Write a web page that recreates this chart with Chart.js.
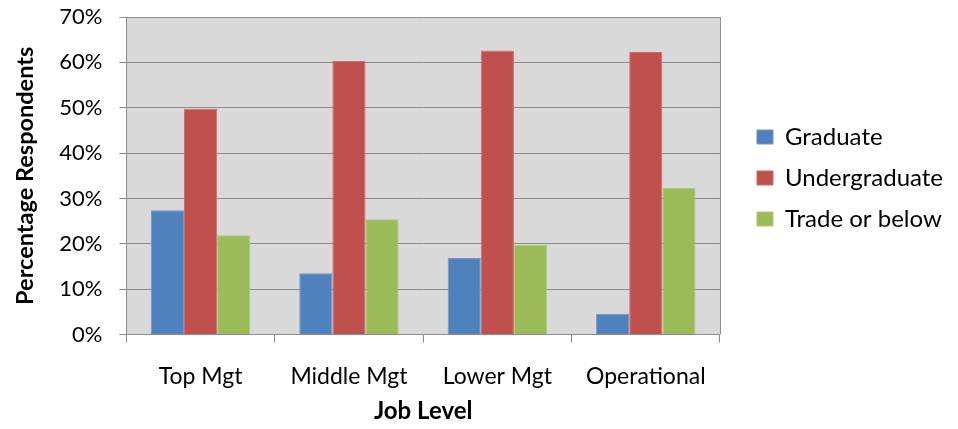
<!DOCTYPE html>
<html>
<head>
<meta charset="utf-8">
<script src="https://cdn.jsdelivr.net/npm/chart.js@4"></script>
<style>
  html, body { margin: 0; padding: 0; background: #fff; }
  #wrap { width: 958px; height: 429px; }
</style>
</head>
<body>
<div id="wrap"><canvas id="chart"></canvas></div>
<script>
// Chart data (percent of respondents)
const jobLevels = ['Top Mgt', 'Middle Mgt', 'Lower Mgt', 'Operational'];
const graduate = [27.4, 13.5, 16.9, 4.6];
const undergraduate = [49.8, 60.3, 62.6, 62.3];
const tradeOrBelow = [21.9, 25.4, 19.8, 32.3];
const yTicks = [0, 10, 20, 30, 40, 50, 60, 70];

const FONT = "Lato, 'Open Sans', sans-serif";

// Grey plot background + right border, like the old Excel look
const plotBackground = {
    id: 'plotBackground',
    beforeDraw(chart) {
        const { ctx, chartArea: a } = chart;
        ctx.save();
        ctx.fillStyle = '#d9d9d9';
        ctx.fillRect(a.left, a.top, a.right - a.left, a.bottom - a.top);
        ctx.restore();
    },
    afterDatasetsDraw(chart) {
        const { ctx, chartArea: a } = chart;
        ctx.save();
        ctx.strokeStyle = '#8c8c8c';
        ctx.lineWidth = 1;
        ctx.beginPath();
        ctx.moveTo(a.right + 0.5, a.top);
        ctx.lineTo(a.right + 0.5, a.bottom);
        ctx.stroke();
        ctx.restore();
    }
};

// Nudge the legend box: Excel puts it a bit further out and level with the plot
const legendNudge = {
    id: 'legendNudge',
    afterLayout(chart) {
        const lg = chart.legend;
        const dx = 20, dy = -37;
        lg.left += dx; lg.right += dx;
        lg.top += dy; lg.bottom += dy;
    }
};

function makeDataset(label, data, color, border) {
    return {
        label: label,
        data: data,
        backgroundColor: color,
        borderColor: border,
        borderWidth: 1,
        categoryPercentage: 0.67,
        barPercentage: 1.0
    };
}

new Chart(document.getElementById('chart'), {
    type: 'bar',
    data: {
        labels: jobLevels,
        datasets: [
            makeDataset('Graduate', graduate, '#4f81bd', '#6f96c8'),
            makeDataset('Undergraduate', undergraduate, '#c0504d', '#cc6d6a'),
            makeDataset('Trade or below', tradeOrBelow, '#9bbb59', '#b0c97c')
        ]
    },
    options: {
        responsive: true,
        maintainAspectRatio: false,
        animation: false,
        layout: {
            padding: { top: 4, right: 25, bottom: 3, left: 11 }
        },
        plugins: {
            legend: {
                position: 'right',
                labels: {
                    font: { family: FONT, size: 24 },
                    color: '#000',
                    boxWidth: 16,
                    boxHeight: 14,
                    padding: 17
                }
            },
            tooltip: { enabled: false }
        },
        scales: {
            x: {
                offset: true,
                grid: {
                    offset: true,
                    drawOnChartArea: false,
                    drawTicks: true,
                    tickLength: 8,
                    color: '#8c8c8c'
                },
                border: { color: '#8c8c8c' },
                ticks: {
                    font: { family: FONT, size: 23 },
                    color: '#000',
                    padding: 20
                },
                title: {
                    display: true,
                    text: 'Job Level',
                    font: { family: FONT, size: 24, weight: 'bold' },
                    color: '#000',
                    padding: { top: -13, bottom: 0 }
                }
            },
            y: {
                min: 0,
                max: 70,
                afterBuildTicks(axis) {
                    axis.ticks = yTicks.map(v => ({ value: v }));
                },
                // the wide label gap should not push the plot top down
                afterFit(axis) {
                    axis.paddingTop = 17;
                    axis.paddingBottom = 17;
                },
                grid: {
                    color: '#8c8c8c',
                    tickLength: 7
                },
                border: { color: '#8c8c8c' },
                ticks: {
                    font: { family: FONT, size: 22 },
                    color: '#000',
                    padding: 17,
                    callback: v => v + '%'
                },
                title: {
                    display: true,
                    text: 'Percentage Respondents',
                    font: { family: FONT, size: 23.5, weight: 'bold' },
                    color: '#000',
                    padding: { top: 0, bottom: 3 }
                }
            }
        }
    },
    plugins: [plotBackground, legendNudge]
});
</script>
</body>
</html>
